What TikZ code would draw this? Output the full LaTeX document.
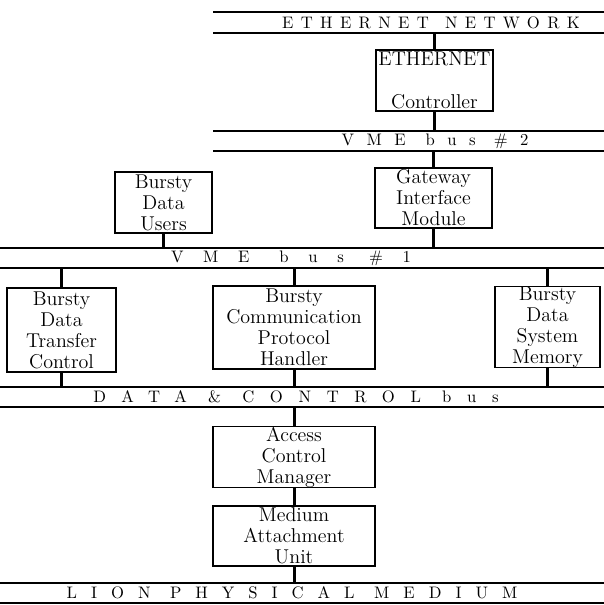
\documentclass[tikz,border=0pt]{standalone}
\usepackage{fontspec}
\newfontfamily\busfont{lmroman10-regular.otf}
\newcommand{\spaced}[2]{{\busfont\addfontfeatures{LetterSpace=#1}#2}}
\begin{document}
\begin{tikzpicture}[x=0.6pt,y=-0.6pt,
  box/.style={draw,line width=0.8pt,align=center,inner sep=0pt,
    font=\fontsize{12}{12.6}\selectfont},
  bus/.style={inner sep=0pt,minimum height=12pt,font=\fontsize{10}{10}\selectfont},
  busline/.style={line width=1.2pt},
  link/.style={line width=1.8pt}]
\useasboundingbox (0,0) rectangle (604,605);
\coordinate (lft) at (0,0);
\coordinate (half) at (213,0);
\coordinate (rgt) at (604,0);
% buses
\node[bus] (ethnet) at (431,22.5) {\spaced{44}{ETHERNET\hspace{2pt} NETWORK}};
\node[bus] (vme2) at (435,141) {\spaced{75}{VME\hspace{12pt}bus \#2}};
\node[bus] (vme1) at (291,258) {\spaced{118}{VME\hspace{18pt}bus \#1}};
\node[bus] (data) at (296,397) {\spaced{94}{DATA \& CONTROL bus}};
\node[bus] (lion) at (292,593) {\spaced{84}{LION PHYSICAL MEDIUM}};
\foreach \b/\s in {ethnet/half,vme2/half,vme1/lft,data/lft,lion/lft}{
  \draw[busline] (\b.north -| \s) -- (\b.north -| rgt);
  \draw[busline] (\b.south -| \s) -- (\b.south -| rgt);
}
% boxes
\node[box,minimum width=70.2pt,minimum height=36.6pt] (eth) at (434.5,80.5) {ETHERNET\\[13pt]Controller};
\node[box,minimum width=70.2pt,minimum height=36pt] (gate) at (433.5,198) {Gateway\\Interface\\Module};
\node[box,minimum width=58.2pt,minimum height=36.6pt] (users) at (163.5,202.5) {Bursty\\Data\\Users};
\node[box,minimum width=65.4pt,minimum height=50.4pt] (transfer) at (61.5,330) {Bursty\\Data\\Transfer\\Control};
\node[box,minimum width=97.2pt,minimum height=49.8pt] (proto) at (294,327.5) {Bursty\\Communication\\Protocol\\Handler};
\node[box,minimum width=63pt,minimum height=48pt] (memory) at (547.5,327) {Bursty\\Data\\System\\Memory};
\node[box,minimum width=97.2pt,minimum height=36pt] (access) at (294,457) {Access\\Control\\Manager};
\node[box,minimum width=97.2pt,minimum height=36pt] (medium) at (294,536) {Medium\\Attachment\\Unit};
% links
\draw[link] (ethnet.south -| eth.north) -- (eth.north);
\draw[link] (eth.south) -- (eth.south |- vme2.north);
\draw[link] (vme2.south -| gate.north) -- (gate.north);
\draw[link] (gate.south) -- (gate.south |- vme1.north);
\draw[link] (users.south) -- (users.south |- vme1.north);
\foreach \n in {transfer,proto,memory}{
  \draw[link] (vme1.south -| \n.north) -- (\n.north);
  \draw[link] (\n.south) -- (\n.south |- data.north);
}
\draw[link] (data.south -| access.north) -- (access.north);
\draw[link] (access.south) -- (medium.north);
\draw[link] (medium.south) -- (medium.south |- lion.north);
\end{tikzpicture}
\end{document}
